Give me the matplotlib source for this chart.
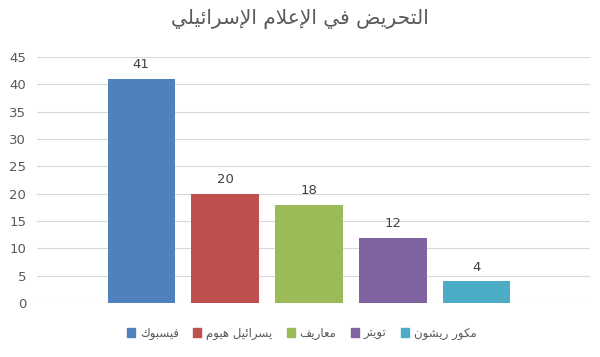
import matplotlib
matplotlib.use("Agg")
import matplotlib.pyplot as plt

title = "التحريض في الإعلام الإسرائيلي"
names = ["فيسبوك", "يسرائيل هيوم", "معاريف", "تويتر", "مكور ريشون"]
values = [41, 20, 18, 12, 4]
colors = ["#4F81BD", "#C0504D", "#9BBB59", "#8064A2", "#4BACC6"]
yticks = [0, 5, 10, 15, 20, 25, 30, 35, 40, 45]

# presentation forms: isolated, final, initial, medial (None = does not join forward)
FORMS = {
    "ا": (0xFE8D, 0xFE8E, None, None),
    "أ": (0xFE83, 0xFE84, None, None),
    "إ": (0xFE87, 0xFE88, None, None),
    "د": (0xFEA9, 0xFEAA, None, None),
    "ر": (0xFEAD, 0xFEAE, None, None),
    "ز": (0xFEAF, 0xFEB0, None, None),
    "و": (0xFEED, 0xFEEE, None, None),
    "ب": (0xFE8F, 0xFE90, 0xFE91, 0xFE92),
    "ت": (0xFE95, 0xFE96, 0xFE97, 0xFE98),
    "ح": (0xFEA1, 0xFEA2, 0xFEA3, 0xFEA4),
    "س": (0xFEB1, 0xFEB2, 0xFEB3, 0xFEB4),
    "ش": (0xFEB5, 0xFEB6, 0xFEB7, 0xFEB8),
    "ض": (0xFEBD, 0xFEBE, 0xFEBF, 0xFEC0),
    "ع": (0xFEC9, 0xFECA, 0xFECB, 0xFECC),
    "ف": (0xFED1, 0xFED2, 0xFED3, 0xFED4),
    "ك": (0xFED9, 0xFEDA, 0xFEDB, 0xFEDC),
    "ل": (0xFEDD, 0xFEDE, 0xFEDF, 0xFEE0),
    "م": (0xFEE1, 0xFEE2, 0xFEE3, 0xFEE4),
    "ن": (0xFEE5, 0xFEE6, 0xFEE7, 0xFEE8),
    "ه": (0xFEE9, 0xFEEA, 0xFEEB, 0xFEEC),
    "ي": (0xFEF1, 0xFEF2, 0xFEF3, 0xFEF4),
    "ئ": (0xFE89, 0xFE8A, 0xFE8B, 0xFE8C),
}
LAMALEF = {"ا": (0xFEFB, 0xFEFC), "أ": (0xFEF7, 0xFEF8), "إ": (0xFEF9, 0xFEFA)}


def shape(text):
    # minimal arabic shaping, then reverse for left-to-right drawing
    chars = list(text)
    out = []
    i = 0
    prev_joins = False
    while i < len(chars):
        c = chars[i]
        if c not in FORMS:
            out.append(c)
            prev_joins = False
            i += 1
            continue
        if c == "ل" and i + 1 < len(chars) and chars[i + 1] in LAMALEF:
            iso, fin = LAMALEF[chars[i + 1]]
            out.append(chr(fin if prev_joins else iso))
            prev_joins = False
            i += 2
            continue
        f = FORMS[c]
        nxt = chars[i + 1] if i + 1 < len(chars) else None
        next_joins = f[2] is not None and nxt in FORMS
        if prev_joins and next_joins:
            out.append(chr(f[3]))
        elif prev_joins:
            out.append(chr(f[1]))
        elif next_joins:
            out.append(chr(f[2]))
        else:
            out.append(chr(f[0]))
        prev_joins = f[2] is not None
        i += 1
    return "".join(reversed(out))


plt.rcParams['font.family'] = ['DejaVu Sans']

fig = plt.figure(figsize=(6, 3.57), dpi=100)
ax = fig.add_axes([0.062, 0.151, 0.921, 0.689])

x = list(range(len(values)))
bars = ax.bar(x, values, width=0.8, color=colors, zorder=3)
for xi, v in zip(x, values):
    ax.text(xi, v + 1.4, str(v), ha='center', va='bottom', fontsize=9.5, color='#404040')

ax.set_xlim(-1.238, 5.345)
ax.set_ylim(0, 45)
ax.set_yticks(yticks)
ax.set_xticks([])
ax.tick_params(axis='y', length=0, pad=8, labelsize=9.5, labelcolor='#595959')
ax.grid(axis='y', color='#D9D9D9', linewidth=0.8, zorder=0)
for s in ax.spines.values():
    s.set_visible(False)

fig.suptitle(shape(title), y=0.975, fontsize=14.5, color='#595959')

handles = [plt.Rectangle((0, 0), 1, 1, color=c) for c in colors]
fig.legend(handles, [shape(n) for n in names], loc='center', bbox_to_anchor=(0.503, 0.067),
           ncol=5, frameon=False, fontsize=8.5, handlelength=0.7, handleheight=0.7,
           handletextpad=0.4, columnspacing=1.2, labelcolor='#595959')

fig.savefig("out.png", dpi=100)
